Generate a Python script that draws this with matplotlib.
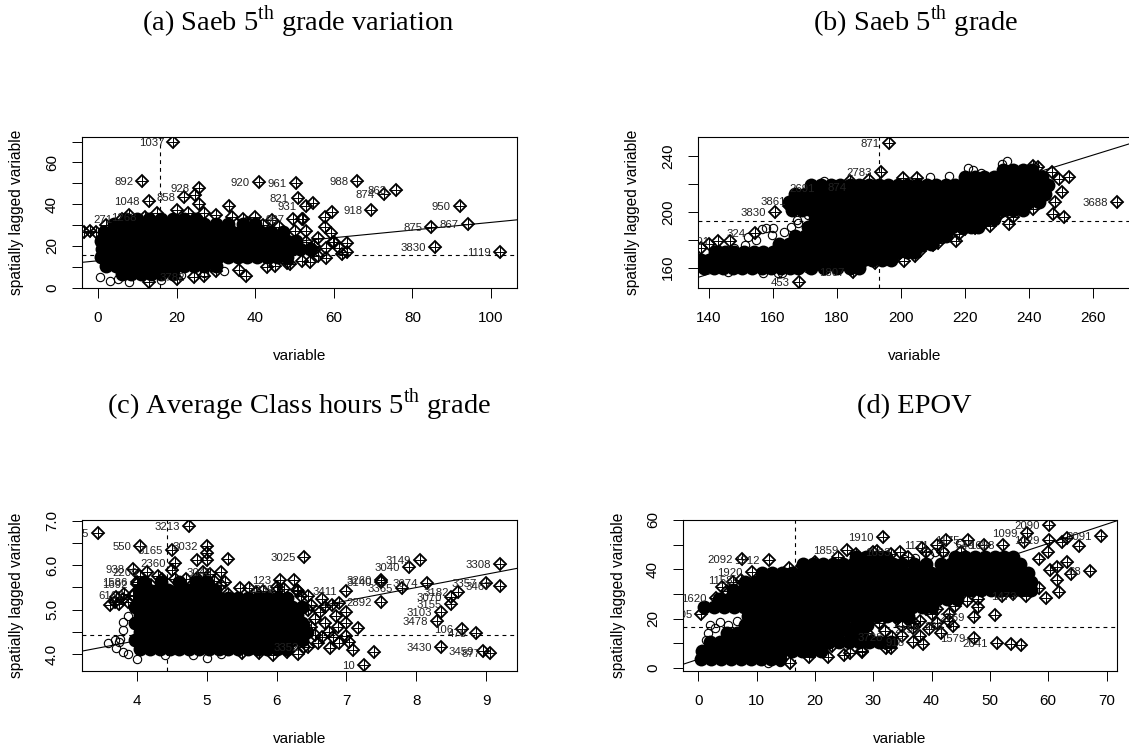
import matplotlib
matplotlib.use("Agg")
import matplotlib.pyplot as plt

W, H = 1129, 749

plt.rcParams['font.family'] = ['Liberation Sans', 'DejaVu Sans']
plt.rcParams['mathtext.fontset'] = 'custom'
plt.rcParams['mathtext.rm'] = 'Liberation Serif'

# Panel a: Saeb 5th grade variation
a_core_y = [6.5, 10.5, 14.5, 18.5, 22.5, 26.5, 30.5, 33]
a_core_x = [
    [6, 8.5, 11, 13.5, 16, 19],
    [2, 4.5, 7, 9.5, 12, 14.5, 17, 19.5, 22, 24.5, 27, 30],
    [0.7, 3, 5.5, 8, 10.5, 13, 15.5, 18, 20.5, 23, 25.5, 28, 30.5, 33, 35.5, 38, 40.5, 43, 45.5, 48],
    [1, 4, 6.5, 9, 11.5, 14, 16.5, 19, 21.5, 24, 26.5, 29, 31.5, 34, 36.5, 39, 41.5, 44, 46.5, 49, 51.5, 54],
    [0.7, 3, 5.5, 8, 10.5, 13, 15.5, 18, 20.5, 23, 25.5, 28, 30.5, 33, 35.5, 38, 40.5, 43, 45.5, 48, 50.5],
    [1.5, 4, 6.5, 9, 11.5, 14, 16.5, 19, 21.5, 24, 26.5, 29, 31.5, 34, 36.5, 39, 41.5, 44, 47],
    [4, 6.5, 9, 11.5, 14, 16.5, 19, 21.5, 24, 27, 30, 33, 37, 40],
    [7, 10, 13, 16, 19, 22, 25],
]
a_lab_names = ['1037', '892', '1048', '928', '920', '961', '988', '874', '863', '918', '950',
               '875', '867', '3830', '1119', '821', '931', '987', '271', '1268', '858', '3782']
a_lab_x = [19.2, 11.3, 13, 25.7, 41, 50.4, 66, 72.8, 75.8, 69.5, 92,
           84.8, 94.1, 85.7, 102.3, 50.8, 52.8, 49.7, 6, 12, 21.9, 24.5]
a_lab_y = [69.8, 51.2, 41.3, 47.7, 50.4, 50.1, 51.2, 45, 46.6, 37.2, 39.1,
           29, 30.4, 19.7, 17, 42.9, 38.9, 33, 33, 34, 43.4, 5.3]
a_dia_x = [24.7, 25.7, 33.3, 40, 44.2, 51.8, 54.8, 59.5, 57.8, 52.2, 57.8, 59.3, 63.4, 63.4, 61.4, 58.1, 59.9,
           37.7, 13, 45, 48.9, 53.9, -3.5, -2, -0.5, 2, 8, 15, 20, 23, 27, 30, 34, 37, 55, 56, 53,
           42, 46, 38, 50, 53, 55, 58, 56, 52, 48, 43, 36, 30, 27, 20, 60, 62]
a_dia_y = [44.5, 40, 39.2, 33.8, 32.2, 33, 40.5, 36.5, 34.1, 33, 29.3, 26.1, 21.6, 17, 18.9, 14.4, 22.1,
           5.8, 2.6, 10.6, 11.4, 12.5, 26.7, 27, 26.5, 30, 35, 36, 37, 36, 36, 35, 34, 33, 18, 24, 27,
           30, 29, 31, 27, 22, 20, 19, 15, 13, 12, 10, 8.5, 8, 5.5, 4, 22, 16]
a_circ_x = [0.5, 3, 5, 8, 16, 21, 27, 32]
a_circ_y = [5, 3, 4, 2.8, 3.5, 6, 7, 8]
a_xticks = [0, 20, 40, 60, 80, 100]
a_yticks = [0, 10, 20, 30, 40, 50, 60, 70]
a_ylabels = ['0', '', '20', '', '40', '', '60', '']

# Panel b: Saeb 5th grade
b_core_y = [160, 165.5, 171, 177, 183, 189, 195, 201, 207, 213, 219, 225, 230]
b_core_x = [
    [138.5, 141.5, 144.5, 147.5, 150.5, 153.5, 156.5, 159.5, 162.5, 165.5, 168, 172, 176, 180, 184, 187],
    [137.5, 140, 143, 146, 149, 152, 155, 158, 161, 164, 167, 170, 173, 176, 179, 182, 185, 188, 191, 194, 197],
    [142, 145, 148, 151, 154, 157, 160, 163, 166, 169, 172, 175, 178, 181, 184, 187, 190, 193, 196, 199, 202, 204],
    [162, 165, 168, 171, 174, 177, 180, 183, 186, 189, 192, 195, 198, 201, 204, 207, 209.5],
    [167, 170, 173, 176, 179, 182, 185, 188, 191, 194, 197, 200, 203, 206, 209, 212, 214],
    [171, 174, 177, 180, 183, 186, 189, 192, 195, 198, 201, 204, 207, 210, 213, 216, 219, 222, 224],
    [173, 176, 179, 182, 185, 188, 191, 194, 197, 200, 203, 206, 209, 212, 215, 218, 221, 224, 227, 229],
    [166, 169, 172, 175, 178, 181, 184, 187, 190, 193, 196, 199, 202, 205, 208, 211, 214, 217, 220, 223, 226, 229, 232, 235, 238],
    [165, 168, 171, 174, 177, 180, 183, 186, 189, 192, 195, 198, 201, 204, 207, 210, 213, 216, 219, 222, 225, 228, 231, 234, 237, 240, 243],
    [167, 170, 173, 176, 179, 182, 185, 188, 191, 194, 197, 200, 203, 206, 209, 212, 215, 218, 221, 224, 227, 230, 233, 236, 239, 242, 245],
    [172, 175, 178, 181, 184, 187, 190, 193, 196, 199, 202, 205, 208, 211, 214, 217, 220, 223, 226, 229, 232, 235, 238, 241, 244, 246],
    [220, 223, 226, 229, 232, 235, 238, 241, 244],
    [232, 235, 238, 241],
]
b_lab_names = ['871', '3688', '2783', '453', '1807', '3830', '201', '324', '3861', '2691', '874']
b_lab_x = [196.3, 267.4, 193.8, 168.2, 185.1, 160.7, 142.9, 154.4, 167, 176, 186]
b_lab_y = [249.5, 207.3, 228.3, 149.5, 156.7, 200.1, 179.3, 185, 208, 217, 218]
b_dia_x = [146.6, 252.6, 249.5, 247.3, 242.9, 241.2, 250.2, 248.1, 247.4, 250.9, 245, 241.2, 233.9, 229.9, 227.8, 223.1,
           220, 217.1, 211.7, 215.1, 204.4, 205.4, 198.3, 191.9, 187.7, 195, 205.1, 200.7, 175.2, 179.4, 184, 190,
           165, 169, 172, 137.5, 140, 143.5, 235, 226, 218, 210, 206, 201]
b_dia_y = [179.3, 224.8, 223.5, 228.8, 232.4, 233, 214, 207.3, 198.5, 196.5, 220.5, 201.8, 191.5, 196.5, 189.8, 188.6,
           187.5, 178.9, 177.5, 185.8, 168.4, 172.7, 166.7, 163, 163.6, 166, 224, 224, 216.9, 218, 222, 223,
           204, 210, 214, 174, 177, 171, 196, 192, 184, 176, 172, 165]
b_circ_x = [233.3, 221, 209, 222.5, 231.5, 160.1, 158, 156.5, 159.6, 163.5, 165.8, 167.9, 171, 152.3, 154.6, 151.3,
            161.6, 163, 156.9, 170.5, 167.4, 225, 215, 176, 148, 146]
b_circ_y = [236.4, 231.2, 224.8, 230, 234, 188.2, 188.2, 187.5, 183.4, 185.4, 189.4, 191.8, 197.7, 182.2, 179.8, 176.3,
            156, 156.2, 156, 159.8, 194.2, 228, 226, 222, 174, 157]
b_xticks = [140, 160, 180, 200, 220, 240, 260]
b_yticks = [160, 180, 200, 220, 240]
b_ylabels = ['160', '', '200', '', '240']

# Panel c: Average Class hours 5th grade
c_core_y = [4.12, 4.31, 4.5, 4.69, 4.88, 5.07, 5.26, 5.45, 5.62]
c_core_x = [
    [4.05, 4.19, 4.33, 4.47, 4.61, 4.75, 4.89, 5.03, 5.17, 5.31, 5.45, 5.59, 5.73, 5.87, 6.01, 6.15],
    [3.98, 4.12, 4.26, 4.4, 4.54, 4.68, 4.82, 4.96, 5.1, 5.24, 5.38, 5.52, 5.66, 5.8, 5.94, 6.08, 6.22, 6.36],
    [4.05, 4.19, 4.33, 4.47, 4.61, 4.75, 4.89, 5.03, 5.17, 5.31, 5.45, 5.59, 5.73, 5.87, 6.01, 6.15, 6.29, 6.43],
    [3.98, 4.12, 4.26, 4.4, 4.54, 4.68, 4.82, 4.96, 5.1, 5.24, 5.38, 5.52, 5.66, 5.8, 5.94, 6.08, 6.22, 6.36],
    [4.05, 4.19, 4.33, 4.47, 4.61, 4.75, 4.89, 5.03, 5.17, 5.31, 5.45, 5.59, 5.73, 5.87, 6.01, 6.15, 6.29],
    [3.98, 4.12, 4.26, 4.4, 4.54, 4.68, 4.82, 4.96, 5.1, 5.24, 5.38, 5.52, 5.66, 5.8, 5.94, 6.08, 6.22, 6.36],
    [4.05, 4.19, 4.33, 4.47, 4.61, 4.75, 4.89, 5.03, 5.17, 5.31, 5.45, 5.59, 5.73, 5.87, 6.01, 6.15],
    [4.03, 4.17, 4.31, 4.45, 4.59, 4.73, 4.87, 5.01, 5.12],
    [4.1, 4.35, 4.6, 4.85, 5.0],
]
c_lab_names = ['3395', '3213', '550', '3165', '3032', '938', '2360', '2209', '3045', '3025', '3411', '2892', '3260', '3140',
               '3365', '3074', '3149', '3040', '3182', '3070', '3155', '3103', '3478', '106', '478', '3430', '3459', '877',
               '3308', '3357', '3467', '10', '3352', '123', '1586', '1692', '6167', '3239']
c_lab_x = [3.45, 4.75, 4.05, 4.5, 5.0, 3.95, 4.55, 4.14, 5.2, 6.4, 7, 7.5, 7.5, 7.5,
           7.8, 8.15, 8.05, 7.9, 8.6, 8.5, 8.5, 8.35, 8.29, 8.65, 8.85, 8.35, 8.95, 9.05,
           9.2, 9.0, 9.2, 7.25, 6.45, 6.05, 4.0, 4.0, 3.95, 6.1]
c_lab_y = [6.72, 6.89, 6.44, 6.34, 6.44, 5.91, 6.04, 5.85, 5.85, 6.18, 5.43, 5.18, 5.67, 5.63,
           5.48, 5.59, 6.12, 5.95, 5.4, 5.28, 5.12, 4.94, 4.75, 4.57, 4.47, 4.16, 4.07, 4.02,
           6.03, 5.59, 5.53, 3.75, 4.16, 5.67, 5.63, 5.58, 5.33, 5.46]
c_dia_x = [5.0, 5.01, 5.3, 4.86, 4.5, 5.26, 6.29, 5.48, 5.61, 4.36, 7.4, 7.1, 7.16, 7.0, 7.0, 6.9, 6.65, 6.25, 6.3,
           6.76, 7.03, 6.81, 6.55, 6.88, 6.62, 6.79, 6.5, 6.4, 6.65, 5.95, 5.5, 5.75, 3.62, 3.69, 3.75, 3.81, 3.88,
           3.95, 3.7, 3.82, 4.05, 4.7, 4.2, 5.05, 6.0, 5.8, 6.45,
           6.45, 6.55, 6.7, 6.6, 6.4, 6.5, 6.75, 6.85, 6.7, 6.35, 6.0, 5.7, 5.3, 5.2, 4.3, 4.85, 4.95, 5.1, 4.55, 6.9, 7.0, 6.3, 6.15]
c_dia_y = [6.12, 6.27, 6.13, 6.12, 5.89, 5.63, 5.44, 5.48, 5.48, 5.7, 4.04, 4.09, 4.58, 4.95, 4.7, 5.14, 5.23, 5.67, 5.43,
           4.13, 4.28, 4.38, 4.43, 4.62, 4.95, 5.1, 5.1, 4.65, 4.39, 3.98, 4.02, 4.02, 5.1, 5.18, 5.12, 5.25, 5.18,
           5.3, 5.28, 5.35, 5.75, 5.7, 5.55, 5.8, 5.5, 5.42, 5.3,
           5.0, 4.8, 4.7, 4.25, 4.15, 4.6, 4.5, 4.85, 5.05, 5.3, 5.42, 5.4, 5.35, 5.55, 5.75, 5.7, 5.85, 5.65, 5.7, 4.25, 4.4, 4.0, 4.05]
c_circ_x = [3.59, 3.69, 3.75, 3.71, 3.81, 3.8, 3.81, 3.76, 4.0, 3.88, 4.4, 4.8, 5.0, 5.2, 3.87]
c_circ_y = [4.24, 4.31, 4.28, 4.13, 4.05, 4.54, 4.73, 4.35, 3.9, 4.0, 3.98, 3.98, 3.92, 4.0, 4.85]
c_xticks = [4, 5, 6, 7, 8, 9]
c_yticks = [4.0, 4.5, 5.0, 5.5, 6.0, 6.5, 7.0]
c_ylabels = ['4.0', '', '5.0', '', '6.0', '', '7.0']

# Panel d: EPOV
d_core_y = [3.5, 7, 10.5, 14, 17.5, 21, 24.5, 28, 31.5, 35, 38.5, 42, 45]
d_core_x = [
    [0.5, 2.2, 3.9, 5.6, 7.3, 9, 10.7, 12.4, 14],
    [0.7, 2.4, 4.1, 5.8, 7.5, 9.2, 10.9, 12.6, 14.3, 16, 17.7, 19.4, 21],
    [2, 3.7, 5.4, 7.1, 8.8, 10.5, 12.2, 13.9, 15.6, 17.3, 19, 20.7, 22.4, 24.1, 25.8, 27.5, 29.2, 31, 33],
    [5, 6.7, 8.4, 10.1, 11.8, 13.5, 15.2, 16.9, 18.6, 20.3, 22, 24, 26, 28],
    [8, 9.7, 11.4, 13.1, 14.8, 16.5, 18.2, 19.9, 21.6, 23.3, 25, 27, 29],
    [8.5, 10.2, 11.9, 13.6, 15.3, 17, 18.7, 20.4, 22.1, 23.8, 25.5, 27.2, 28.9, 30.6, 32.3, 34, 36],
    [1, 2.7, 4.4, 6.1, 7.8, 9.5, 11.2, 12.9, 14.6, 16.3, 18, 19.7, 21.4, 23.1, 24.8, 26.5, 28.2, 29.9, 31.6, 33.3, 35, 36.7, 38.4, 40],
    [3.5, 5.2, 6.9, 8.6, 10.3, 12, 13.7, 15.4, 17.1, 18.8, 20.5, 22.2, 23.9, 25.6, 27.3, 29, 30.7, 32.4, 34.1, 35.8, 37.5, 39.2, 40.9, 42.6, 44.3],
    [6, 7.7, 9.4, 11.1, 12.8, 14.5, 16.2, 17.9, 19.6, 21.3, 23, 24.7, 26.4, 28.1, 29.8, 31.5, 33.2, 34.9, 36.6, 38.3, 40, 41.7, 43.4, 45.1, 46.8, 48.5, 50.2, 51.9, 53.6, 55.3, 57],
    [8, 9.7, 11.4, 13.1, 14.8, 16.5, 18.2, 19.9, 21.6, 23.3, 25, 26.7, 28.4, 30.1, 31.8, 33.5, 35.2, 36.9, 38.6, 40.3, 42, 43.7, 45.4, 47.1, 48.8, 50.5, 52.2, 53.9, 55.6, 57],
    [11, 12.7, 14.4, 16.1, 17.8, 19.5, 21.2, 22.9, 24.6, 26.3, 28, 29.7, 31.4, 33.1, 34.8, 36.5, 38.2, 39.9, 41.6, 43.3, 45, 46.7, 48.4, 50.1, 51.8, 53.5, 55.2, 56.5],
    [18, 19.7, 21.4, 23.1, 24.8, 26.5, 28.2, 29.9, 31.6, 33.3, 35, 37, 39, 41.6, 43.3, 45, 46.7, 48.4, 50.1, 51.8, 53.5, 55.2],
    [27, 28.7, 30.4, 32.1, 44, 45.7, 47.4, 49.1, 50.8, 52.5, 54],
]
d_lab_names = ['2092', '1912', '1920', '1158', '1859', '1910', '1171', '1175', '2090', '1099', '1029', '2091',
               '1505', '1620', '549', '1098', '1473', '2769', '286', '1579', '2641', '918', '2159', '3728', '1693', '68']
d_lab_x = [7.5, 12.1, 9.2, 7.4, 25.5, 31.6, 41, 46.3, 60.1, 56.3, 60.1, 69,
           0.5, 3, 49, 52.3, 56.2, 47.3, 43.6, 47.3, 51.2, 36.9, 39.5, 33.2, 34.5, 67.2]
d_lab_y = [44.2, 43.8, 38.8, 35.6, 47.8, 53.3, 49.9, 51.9, 58, 54.9, 52, 53.7,
           22, 28.5, 50, 49.9, 29.3, 20.7, 16.9, 12.2, 9.9, 10.6, 15.6, 12.4, 46.9, 39.4]
d_dia_x = [17.7, 15.6, 30.6, 42.5, 38.3, 65.2, 63.2, 62.3, 55.8, 63.9, 61.5, 61.9, 59.6, 58.4, 60.3, 63.2, 50.8, 47.9,
           41.6, 53.6, 55.3, 38.5, 36.9, 32.2, 28, 22.3, 18.9, 15.7, 5, 20, 24, 27, 30, 33, 36, 39, 42, 45, 26, 29, 34,
           37, 40, 43, 58.5, 60, 61.5, 4, 6, 23, 26, 30, 33,
           24, 28, 32, 35, 38, 41, 43, 44, 36, 39, 32, 28, 25, 35, 41, 46, 48, 52, 54, 31, 27, 38]
d_dia_y = [41.5, 40.6, 47.4, 51.9, 48.5, 49.5, 52.8, 51.2, 51.2, 38.1, 35.6, 30.8, 28.2, 32.3, 39.7, 43.1, 21.3, 24.8,
           14, 9.5, 9.1, 9.6, 16, 7.9, 6.5, 4.5, 4.5, 1.8, 31, 43, 45, 46, 47, 46, 45, 47, 47, 47, 12, 14, 20,
           18, 22, 19, 44, 47, 41, 33, 35, 9, 6, 11, 8,
           14, 16, 15, 13, 13, 18, 22, 25, 20, 24, 10, 7, 5, 17, 24, 27, 28, 29, 30, 18, 12, 19]
d_circ_x = [35.2, 37.2, 39.5, 40.6, 42.1, 44.9, 2, 2.9, 3.7, 1.6, 1.3, 5.1, 6.6, 9.7, 12, 14]
d_circ_y = [44, 44.5, 45.8, 47.2, 46.9, 50.8, 17.4, 16, 18.5, 14, 11.3, 17.4, 19.1, 20.7, 2, 2.5]
d_xticks = [0, 10, 20, 30, 40, 50, 60, 70]
d_yticks = [0, 10, 20, 30, 40, 50, 60]
d_ylabels = ['0', '', '20', '', '40', '', '60']


def draw_panel(box, xlim, ylim, mean_x, mean_y, slope, core_x, core_y, circ_x, circ_y,
               dia_x, dia_y, lab_names, lab_x, lab_y, xticks, yticks, ylabels):
    left, top, right, bottom = box
    ax = fig.add_axes([left / W, 1 - bottom / H, (right - left) / W, (bottom - top) / H])
    ax.set_xlim(xlim)
    ax.set_ylim(ylim)

    ax.axvline(mean_x, color='black', linestyle=(0, (3.5, 3.5)), linewidth=0.8, zorder=1)
    ax.axhline(mean_y, color='black', linestyle=(0, (3.5, 3.5)), linewidth=0.8, zorder=1)
    ax.plot(xlim, [mean_y + slope * (xlim[0] - mean_x), mean_y + slope * (xlim[1] - mean_x)],
            color='black', linewidth=0.8, zorder=1)

    # the overplotted mass of points in the middle of the cloud
    for y, xs in zip(core_y, core_x):
        ax.plot(xs, [y] * len(xs), 'o', color='black', markersize=10, markeredgewidth=0, zorder=2)

    ax.plot(circ_x, circ_y, 'o', markerfacecolor='none', markeredgecolor='black',
            markersize=6, markeredgewidth=0.8, zorder=3)

    all_x = list(dia_x) + list(lab_x)
    all_y = list(dia_y) + list(lab_y)
    ax.plot(all_x, all_y, 'D', markerfacecolor='none', markeredgecolor='black',
            markersize=6.2, markeredgewidth=1.3, zorder=4)
    ax.plot(all_x, all_y, '+', color='black', markersize=8, markeredgewidth=0.7, zorder=4)

    for name, x, y in zip(lab_names, lab_x, lab_y):
        ax.annotate(name, (x, y), xytext=(-6.5, 0), textcoords='offset points', ha='right',
                    va='center_baseline', fontsize=8.2, color='#222222', clip_on=True, zorder=5)

    ax.set_xticks(xticks)
    ax.set_yticks(yticks)
    ax.set_yticklabels(ylabels, rotation=90, va='center')
    ax.tick_params(axis='x', length=7, width=0.7, pad=9.5, labelsize=11)
    ax.tick_params(axis='y', length=7, width=0.7, pad=9.5, labelsize=11)
    for spine in ax.spines.values():
        spine.set_linewidth(0.8)

    fig.text((left - 65) / W, 1 - (top + bottom) / 2 / H, 'spatially lagged variable',
             rotation=90, ha='center', va='center', fontsize=11.2)
    fig.text((left + right) / 2 / W, 1 - (bottom + 68) / H, 'variable',
             ha='center', va='center', fontsize=11)


fig = plt.figure(figsize=(W / 100, H / 100), dpi=100)

draw_panel((82, 137, 517, 288.3), (-4.07, 106.6), (-0.3, 72.2), 15.8, 15.8, 0.184,
           a_core_x, a_core_y, a_circ_x, a_circ_y, a_dia_x, a_dia_y,
           a_lab_names, a_lab_x, a_lab_y, a_xticks, a_yticks, a_ylabels)
draw_panel((698, 137, 1132, 288.3), (136.6, 272.2), (145.2, 253.6), 193.2, 193.2, 0.71,
           b_core_x, b_core_y, b_circ_x, b_circ_y, b_dia_x, b_dia_y,
           b_lab_names, b_lab_x, b_lab_y, b_xticks, b_yticks, b_ylabels)
draw_panel((82, 520, 517, 671), (3.217, 9.44), (3.62, 7.016), 4.43, 4.43, 0.299,
           c_core_x, c_core_y, c_circ_x, c_circ_y, c_dia_x, c_dia_y,
           c_lab_names, c_lab_x, c_lab_y, c_xticks, c_yticks, c_ylabels)
draw_panel((683, 520, 1117, 671), (-2.63, 71.8), (-1.3, 60), 16.5, 16.4, 0.783,
           d_core_x, d_core_y, d_circ_x, d_circ_y, d_dia_x, d_dia_y,
           d_lab_names, d_lab_x, d_lab_y, d_xticks, d_yticks, d_ylabels)

titles = [r'(a) Saeb 5$^{\mathrm{th}}$ grade variation', r'(b) Saeb 5$^{\mathrm{th}}$ grade',
          r'(c) Average Class hours 5$^{\mathrm{th}}$ grade', '(d) EPOV']
title_x = [298.5, 916, 299, 914]
title_y = [30.5, 30.5, 413, 413]
for text, x, y in zip(titles, title_x, title_y):
    fig.text(x / W, 1 - y / H, text, ha='center', va='baseline', fontsize=20.5, family='Liberation Serif')

fig.savefig('out.png', dpi=100)
